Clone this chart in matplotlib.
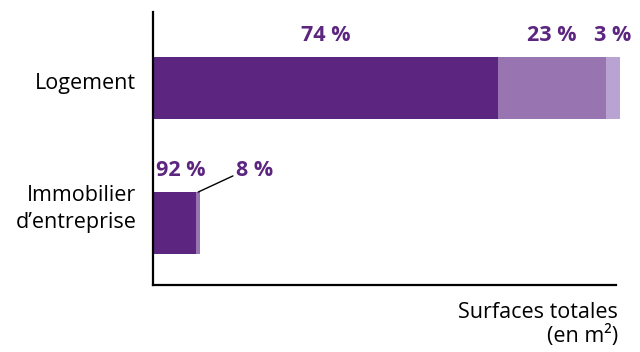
import matplotlib.pyplot as plt

plt.rcParams['font.family'] = ['Open Sans', 'DejaVu Sans']

categories = ['Logement', 'Immobilier\nd\u2019entreprise']
totals = [100, 10.1]          # surfaces totales, relatives
shares = [[74, 23, 3], [92, 8, 0]]
share_labels = [['74 %', '23 %', '3 %'], ['92 %', '8 %', '']]
colors = ['#5C2680', '#9874B0', '#B9A3D3']
text_color = '#5C2680'

fig = plt.figure(figsize=(6.4, 3.52), dpi=100)
ax = fig.add_axes([0.239, 0.19, 0.7235, 0.776])

ypos = [0, 1]
height = 0.46
for i, (tot, sh) in enumerate(zip(totals, shares)):
    left = 0
    for j, s in enumerate(sh):
        w = tot * s / 100
        if w > 0:
            ax.barh(ypos[i], w, left=left, height=height, color=colors[j],
                    clip_on=False)
        left += w

# Logement labels, centred above each segment
tot = totals[0]
left = 0
for j, s in enumerate(shares[0]):
    w = tot * s / 100
    ax.annotate(share_labels[0][j], (left + w / 2, ypos[0] - height / 2),
                xytext=(0, 8), textcoords='offset points', ha='center',
                va='bottom', fontsize=15.5, fontweight='bold', color=text_color,
                annotation_clip=False)
    left += w

# Immobilier labels
tot = totals[1]
w0 = tot * shares[1][0] / 100
w1 = tot * shares[1][1] / 100
ax.annotate(share_labels[1][0], (0, ypos[1] - height / 2), xytext=(2, 8),
            textcoords='offset points', ha='left', va='bottom', fontsize=15.5,
            fontweight='bold', color=text_color)
ax.annotate(share_labels[1][1], (w0 + w1 / 2, ypos[1] - height / 2),
            xytext=(27, 8), textcoords='offset points', ha='left',
            va='bottom', fontsize=15.5, fontweight='bold', color=text_color,
            arrowprops=dict(arrowstyle='-', color='black', lw=1,
                            shrinkA=0, shrinkB=0, relpos=(0, 0.3)))

ax.set_xlim(0, 99.2)
ax.set_ylim(1.459, -0.563)
ax.set_xticks([])
ax.set_yticks([])

for i, cat in enumerate(categories):
    ax.annotate(cat, (0, ypos[i]), xytext=(-12, 3 if i == 0 else 10),
                textcoords='offset points', ha='right', va='center',
                fontsize=15.5, color='black', linespacing=1.38)

for side in ['top', 'right']:
    ax.spines[side].set_visible(False)
ax.spines['left'].set_linewidth(1.6)
ax.spines['bottom'].set_linewidth(1.6)

ax.text(1.005, -0.06, 'Surfaces totales\n(en m\u00b2)', transform=ax.transAxes,
        ha='right', va='top', fontsize=15.5, color='black', linespacing=1.15)

fig.savefig('out.png', dpi=100)
